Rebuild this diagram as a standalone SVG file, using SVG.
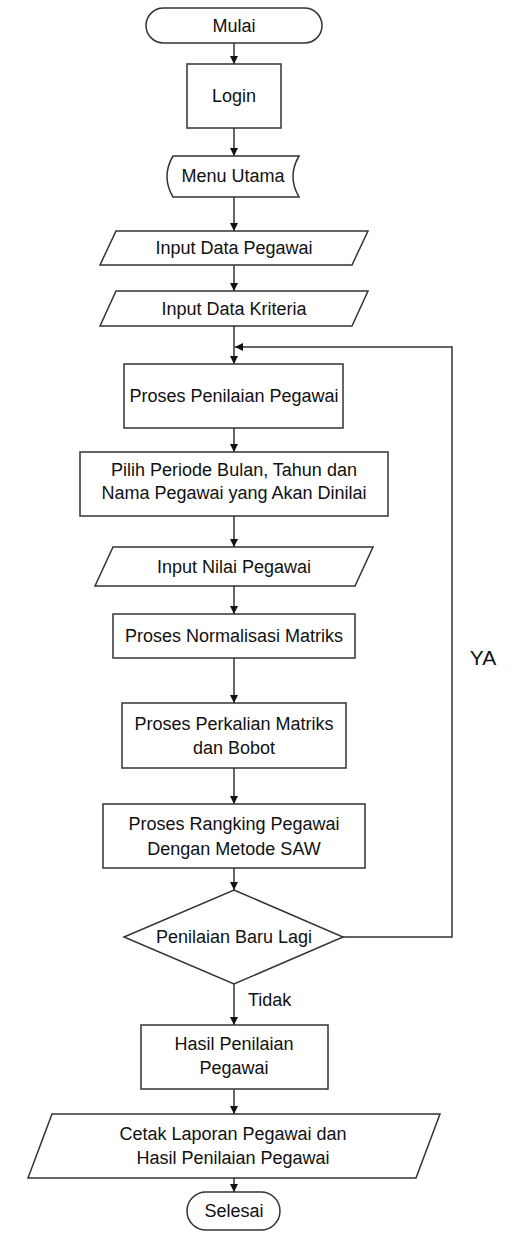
<svg xmlns="http://www.w3.org/2000/svg" width="512" height="1233" viewBox="0 0 512 1233">
<style>
.s{fill:#fff;stroke:#333;stroke-width:1.5}
.t{font-family:"Liberation Sans",Arial,sans-serif;font-size:18px;fill:#111;text-anchor:middle}
.c{fill:none;stroke:#333;stroke-width:1.5}
</style>
<defs>
<marker id="ah" markerWidth="8" markerHeight="8" refX="8" refY="4" orient="auto" markerUnits="userSpaceOnUse">
<path d="M0,0 L8,4 L0,8 Z" fill="#111"/>
</marker>
</defs>
<rect width="512" height="1233" fill="#fff"/>
<g id="connectors">
<line class="c" x1="234" y1="43" x2="234" y2="64" marker-end="url(#ah)"/>
<line class="c" x1="234" y1="128" x2="234" y2="156" marker-end="url(#ah)"/>
<line class="c" x1="234" y1="197" x2="234" y2="231" marker-end="url(#ah)"/>
<line class="c" x1="234" y1="265" x2="234" y2="291" marker-end="url(#ah)"/>
<line class="c" x1="234" y1="326" x2="234" y2="364" marker-end="url(#ah)"/>
<line class="c" x1="234" y1="428" x2="234" y2="452" marker-end="url(#ah)"/>
<line class="c" x1="234" y1="516" x2="234" y2="547" marker-end="url(#ah)"/>
<line class="c" x1="234" y1="586" x2="234" y2="614" marker-end="url(#ah)"/>
<line class="c" x1="234" y1="658" x2="234" y2="703" marker-end="url(#ah)"/>
<line class="c" x1="234" y1="768" x2="234" y2="804" marker-end="url(#ah)"/>
<line class="c" x1="234" y1="868" x2="234" y2="890" marker-end="url(#ah)"/>
<line class="c" x1="234" y1="984" x2="234" y2="1025" marker-end="url(#ah)"/>
<line class="c" x1="234" y1="1089" x2="234" y2="1114" marker-end="url(#ah)"/>
<line class="c" x1="234" y1="1178" x2="234" y2="1192" marker-end="url(#ah)"/>
<polyline class="c" points="343,937 452,937 452,347 235,347" marker-end="url(#ah)"/>
<text class="t" x="248" y="1006" style="text-anchor:start">Tidak</text>
<text class="t" x="483" y="665" style="font-size:21px">YA</text>
</g>
<g id="mulai">
<rect class="s" x="146" y="8" width="176" height="35" rx="17.5"/>
<text class="t" x="234" y="32">Mulai</text>
</g>
<g id="login">
<rect class="s" x="187" y="64" width="94" height="64"/>
<text class="t" x="234" y="102">Login</text>
</g>
<g id="menu">
<path class="s" d="M173,156 L299,156 Q287,176.5 299,197 L173,197 Q161,176.5 173,156 Z"/>
<text class="t" x="233" y="182">Menu Utama</text>
</g>
<g id="input-pegawai">
<polygon class="s" points="116,231 368,231 352,265 100,265"/>
<text class="t" x="234" y="254">Input Data Pegawai</text>
</g>
<g id="input-kriteria">
<polygon class="s" points="116,291 368,291 352,326 100,326"/>
<text class="t" x="234" y="315">Input Data Kriteria</text>
</g>
<g id="proses-penilaian">
<rect class="s" x="124" y="364" width="219" height="64"/>
<text class="t" x="234" y="402">Proses Penilaian Pegawai</text>
</g>
<g id="pilih">
<rect class="s" x="80" y="452" width="308" height="64"/>
<text class="t" x="234" y="476">Pilih Periode Bulan, Tahun dan</text>
<text class="t" x="234" y="499">Nama Pegawai yang Akan Dinilai</text>
</g>
<g id="input-nilai">
<polygon class="s" points="113,547 373,547 355,586 95,586"/>
<text class="t" x="234" y="573">Input Nilai Pegawai</text>
</g>
<g id="normalisasi">
<rect class="s" x="113" y="614" width="242" height="44"/>
<text class="t" x="234" y="642">Proses Normalisasi Matriks</text>
</g>
<g id="perkalian">
<rect class="s" x="122" y="703" width="224" height="65"/>
<text class="t" x="234" y="730">Proses Perkalian Matriks</text>
<text class="t" x="234" y="754">dan Bobot</text>
</g>
<g id="rangking">
<rect class="s" x="103" y="804" width="262" height="64"/>
<text class="t" x="234" y="830">Proses Rangking Pegawai</text>
<text class="t" x="234" y="855">Dengan Metode SAW</text>
</g>
<g id="keputusan">
<polygon class="s" points="234,890 343,937 234,984 124,937"/>
<text class="t" x="234" y="943">Penilaian Baru Lagi</text>
</g>
<g id="hasil">
<rect class="s" x="141" y="1025" width="187" height="64"/>
<text class="t" x="234" y="1050">Hasil Penilaian</text>
<text class="t" x="234" y="1074">Pegawai</text>
</g>
<g id="cetak">
<polygon class="s" points="52,1114 440,1114 416,1178 28,1178"/>
<text class="t" x="233" y="1140">Cetak Laporan Pegawai dan</text>
<text class="t" x="233" y="1164">Hasil Penilaian Pegawai</text>
</g>
<g id="selesai">
<rect class="s" x="187" y="1192" width="93" height="38" rx="19"/>
<text class="t" x="234" y="1217">Selesai</text>
</g>
</svg>
